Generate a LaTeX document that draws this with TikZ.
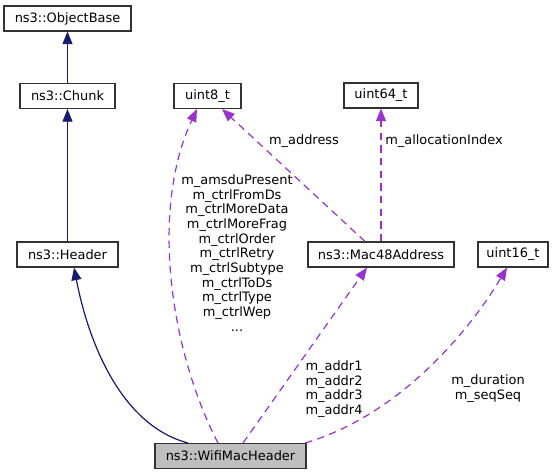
\documentclass[tikz,border=0pt]{standalone}
\usepackage{fontspec}
\setmainfont{DejaVu Sans}
\usepackage{xcolor}
\usepackage{tikz}
\usetikzlibrary{shapes.geometric, arrows.meta, positioning}
\definecolor{edgeblue}{HTML}{191970}
\definecolor{edgepurple}{HTML}{9A32CD}
\definecolor{boxgray}{HTML}{BFBFBF}
\tikzstyle{classbox} = [rectangle, minimum height=18.75pt, inner sep=0pt, text centered, draw=black!80, line width=0.8pt]
\tikzstyle{inherit} = [draw=edgeblue, line width=0.9pt, -{Triangle[length=9.5pt,width=7.5pt]}]
\tikzstyle{usage} = [draw=edgepurple, line width=0.9pt, dash pattern=on 5.5pt off 4pt, -{Triangle[length=9.5pt,width=7.5pt]}]
\tikzstyle{edgelabel} = [align=center, inner sep=0pt]

\begin{document}
\begin{tikzpicture}[x=0.75pt, y=-0.75pt, node distance=58.125pt, font=\fontsize{9.7}{11}\selectfont]
\useasboundingbox (0,0) rectangle (559,475);

\node (objbase) [classbox, minimum width=95.25pt] at (67.5,18.5) {ns3::ObjectBase};
\node (chunk) [classbox, minimum width=71.25pt, below of=objbase] {ns3::Chunk};
\node (header) [classbox, minimum width=75.75pt, below of=chunk, yshift=-60.75pt] {ns3::Header};
\node (uint8) [classbox, minimum width=50.25pt] at (207.5,96) {uint8\_t};
\node (uint64) [classbox, minimum width=55.5pt] at (381,95.5) {uint64\_t};
\node (mac48) [classbox, minimum width=109.5pt] at (381,254.5) {ns3::Mac48Address};
\node (uint16) [classbox, minimum width=52.5pt] at (513,254.5) {uint16\_t};
\node (wifi) [classbox, minimum width=113.25pt, fill=boxgray] at (230.5,456) {ns3::WifiMacHeader};

\draw [inherit] (chunk) -- (objbase);
\draw [inherit] (header) -- (chunk);
\draw [inherit] ([xshift=-31.9pt]wifi.north) .. controls (120,425) and (88,340) .. ([xshift=4.9pt]header.south);
\draw [usage] ([xshift=-9.4pt]wifi.north) .. controls (170,350) and (150,210) .. ([xshift=-7.9pt]uint8.south);
\draw [usage] ([xshift=-12pt]mac48.north) -- ([xshift=10.9pt]uint8.south);
\draw [usage] (mac48.north) -- (uint64.south);
\draw [usage] ([xshift=9.4pt]wifi.north) -- ([xshift=-10.5pt]mac48.south);
\draw [usage] ([xshift=-1pt]wifi.north east) .. controls (400,415) and (470,330) .. ([xshift=-4.5pt]uint16.south);

\node (lbluint8) [edgelabel] at (237,253) {m\_amsduPresent\\m\_ctrlFromDs\\m\_ctrlMoreData\\m\_ctrlMoreFrag\\m\_ctrlOrder\\m\_ctrlRetry\\m\_ctrlSubtype\\m\_ctrlToDs\\m\_ctrlType\\m\_ctrlWep\\...};
\node (lbladdress) [edgelabel] at (304,141) {m\_address};
\node (lblalloc) [edgelabel, anchor=west] at (385,141) {m\_allocationIndex};
\node (lbladdr) [edgelabel] at (334,389) {m\_addr1\\m\_addr2\\m\_addr3\\m\_addr4};
\node (lblduration) [edgelabel] at (488,388.5) {m\_duration\\m\_seqSeq};

\end{tikzpicture}
\end{document}
